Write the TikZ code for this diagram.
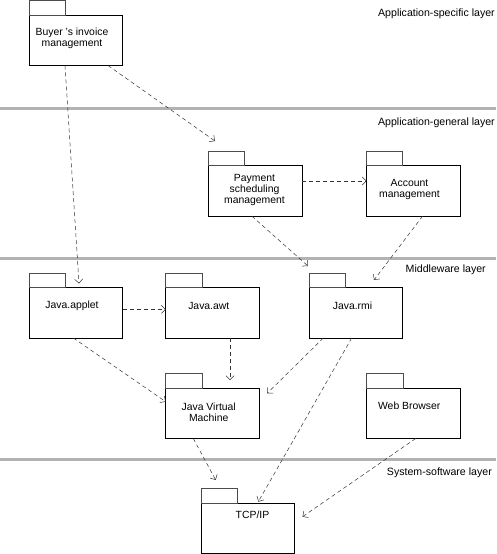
\documentclass[tikz,border=0pt]{standalone}
\usepackage{fontspec}
\setmainfont{Liberation Sans}
\usetikzlibrary{arrows.meta,calc}
\begin{document}
\begin{tikzpicture}[x=1pt,y=-1pt,
  pkg/.style={draw=black,line width=0.8pt,minimum width=93.5pt,minimum height=50.5pt,anchor=north west,inner sep=0pt,outer sep=0pt,fill=white},
  pkgtab/.style={draw=black!70,line width=0.8pt},
  pkgtext/.style={align=center,inner sep=0pt,font=\fontsize{10.4}{11}\selectfont},
  layer/.style={anchor=east,inner sep=0pt,font=\fontsize{10.6}{11}\selectfont},
  sep/.style={line width=3pt,draw=black!30},
  dep/.style={draw=black!80,line width=0.5pt,dash pattern=on 4pt off 3pt,-{Straight Barb[length=4pt,width=8pt]}}
]
\useasboundingbox (0,0) rectangle (496,554);
% layer separators
\draw[sep] (0,108) -- (496,108);
\draw[sep] (0,258.3) -- (496,258.3);
\draw[sep] (0,459.3) -- (496,459.3);
% layer labels
\node[layer] (l1) at (495,13.3) {Application-specific layer};
\node[layer] (l2) at (495,122.7) {Application-general layer};
\node[layer] (l3) at (486,270) {Middleware layer};
\node[layer] (l4) at (492,472.7) {System-software layer};
% packages
\node[pkg] (buyer) at (29,15) {};
\node[pkg] (pay) at (208.5,165.5) {};
\node[pkg] (acct) at (366.5,165.5) {};
\node[pkg] (applet) at (29,287.5) {};
\node[pkg] (awt) at (165.7,287.5) {};
\node[pkg] (rmi) at (309,287.5) {};
\node[pkg] (jvm) at (165.7,388) {};
\node[pkg] (web) at (366.7,388) {};
\node[pkg,minimum height=50pt] (tcp) at (201,503.3) {};
\foreach \p in {buyer,pay,acct,applet,awt,rmi,jvm,web,tcp}{
  \draw[pkgtab] (\p.north west) rectangle ++(36.3,-14.5);
}
% texts
\node[pkgtext] (buyer-t) at (72,38.5) {Buyer 's invoice\\management};
\node[pkgtext] (pay-t) at (254.5,190) {Payment\\scheduling\\management};
\node[pkgtext] (acct-t) at (409.5,189.2) {Account\\management};
\node[pkgtext] (applet-t) at (72,306) {Java.applet};
\node[pkgtext] (awt-t) at (208.8,306) {Java.awt};
\node[pkgtext] (rmi-t) at (352.5,306) {Java.rmi};
\node[pkgtext] (jvm-t) at (208.7,412.2) {Java Virtual\\Machine};
\node[pkgtext] (web-t) at (409.2,406) {Web Browser};
\node[pkgtext] (tcp-t) at (252.5,515) {TCP/IP};
% dependencies
\draw[dep] ($(buyer.south west)+(36,0)$) -- ($(applet.north west)+(50,-4)$);
\draw[dep] ($(buyer.south west)+(79,0)$) -- ($(pay.north west)+(6.5,-24.5)$);
\draw[dep] ($(pay.north east)+(0,15.5)$) -- ($(acct.north west)+(0,15.5)$);
\draw[dep] ($(pay.south west)+(43.2,0)$) -- ($(rmi.north west)+(-1,-21.5)$);
\draw[dep] ($(acct.south west)+(56.2,0)$) -- ($(rmi.north west)+(65,-7.5)$);
\draw[dep] ($(applet.north east)+(0,21.8)$) -- ($(awt.north west)+(0,21.8)$);
\draw[dep] ($(applet.south west)+(44.3,0)$) -- ($(jvm.north west)+(0,13.7)$);
\draw[dep] ($(awt.south west)+(64.3,0)$) -- ($(jvm.north west)+(64.3,-8)$);
\draw[dep] ($(rmi.south west)+(14.3,0)$) -- ($(jvm.north east)+(8,5.3)$);
\draw[dep] ($(rmi.south west)+(42.7,0)$) -- ($(tcp.north west)+(57.3,-1.6)$);
\draw[dep] ($(jvm.south west)+(27.6,0)$) -- ($(tcp.north west)+(14.7,-23.3)$);
\draw[dep] ($(web.south west)+(49,0)$) -- ($(tcp.north east)+(8,13.4)$);
\end{tikzpicture}
\end{document}
